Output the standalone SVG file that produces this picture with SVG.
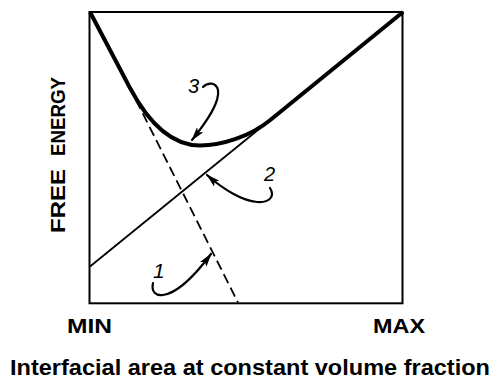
<svg xmlns="http://www.w3.org/2000/svg" width="492" height="379" viewBox="0 0 492 379">
<style>
.lbl{font-family:"Liberation Sans",Arial,sans-serif;font-weight:bold;fill:#000}
.num{font-family:"Liberation Sans",Arial,sans-serif;font-style:italic;fill:#000}
.arr{fill:none;stroke:#000;stroke-width:2.2;stroke-linecap:round}
</style>
<defs>
<marker id="ah" viewBox="0 0 14 8" refX="13" refY="4" markerWidth="14" markerHeight="8" markerUnits="userSpaceOnUse" orient="auto">
<path d="M0,0 L14,4 L0,8 L3,4 z" fill="#000"/>
</marker>
</defs>
<rect width="492" height="379" fill="#fff"/>
<g id="frame">
<rect x="89.5" y="12" width="313" height="291.3" fill="none" stroke="#000" stroke-width="2"/>
</g>
<g id="curves">
<line id="line2" x1="90" y1="266.5" x2="403" y2="12" stroke="#000" stroke-width="1.8"/>
<line id="line1" x1="136" y1="100" x2="238" y2="302.5" stroke="#000" stroke-width="1.8" stroke-dasharray="10,5"/>
<path id="curve3" d="M90,12 L130,88 C146,118 168,145.5 200,145.5 C222,145.5 250,136.5 270,120.2 L403,12" fill="none" stroke="#000" stroke-width="4" stroke-linejoin="round"/>
</g>
<g id="connectors">
<path class="arr" d="M203,87 C208,82 216,82 218,90 C220,102 208,120 192,140" marker-end="url(#ah)"/>
<path class="arr" d="M270,188 C275,196 270,203 257,202 C243,201 224,190 207,175" marker-end="url(#ah)"/>
<path class="arr" d="M153,283 C151,292 156,296 163,295 C178,293 196,274 211,254" marker-end="url(#ah)"/>
</g>
<g id="labels">
<text class="num" x="188" y="93" font-size="20">3</text>
<text class="num" x="264" y="181" font-size="20">2</text>
<text class="num" x="153" y="278" font-size="21">1</text>
<text class="lbl" x="67" y="333" font-size="21" textLength="45" lengthAdjust="spacingAndGlyphs">MIN</text>
<text class="lbl" x="373" y="333" font-size="21" textLength="52" lengthAdjust="spacingAndGlyphs">MAX</text>
<g transform="translate(65,0) rotate(-90)">
<text class="lbl" x="-233" y="0" font-size="21" textLength="64" lengthAdjust="spacingAndGlyphs">FREE</text>
<text class="lbl" x="-156" y="0" font-size="21" textLength="79" lengthAdjust="spacingAndGlyphs">ENERGY</text>
</g>
<text class="lbl" x="10" y="375" font-size="22" textLength="480" lengthAdjust="spacingAndGlyphs">Interfacial area at constant volume fraction</text>
</g>
</svg>
